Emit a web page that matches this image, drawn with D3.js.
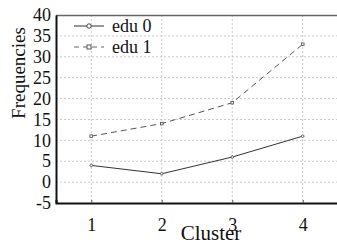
<!DOCTYPE html>
<html>
<head>
<meta charset="utf-8">
<script src="https://d3js.org/d3.v7.min.js"></script>
<style>
  body { margin: 0; background: #fff; }
  text { font-family: "Liberation Serif", "Times New Roman", serif; fill: #111; }
</style>
</head>
<body>
<svg width="337" height="246"></svg>
<script>
  const clusters = [1, 2, 3, 4];
  const edu0 = [4, 2, 6, 11];
  const edu1 = [11, 14, 19, 33];
  const yTicks = [-5, 0, 5, 10, 15, 20, 25, 30, 35, 40];

  const svg = d3.select('svg');
  const margin = {top: 15, left: 56, bottom: 43, right: -1};
  const width = +svg.attr('width');
  const height = +svg.attr('height');
  const innerWidth = width - margin.left - margin.right;
  const innerHeight = height - margin.top - margin.bottom;

  const xScale = d3.scaleLinear().domain([0.5, 4.5]).range([0, innerWidth]);
  const yScale = d3.scaleLinear().domain([-5, 40]).range([innerHeight, 0]);

  const g = svg.append('g').attr('transform', `translate(${margin.left},${margin.top})`);

  // grid
  g.selectAll('.hgrid').data(yTicks.slice(1, -1)).enter().append('line')
    .attr('x1', 0).attr('x2', innerWidth)
    .attr('y1', d => yScale(d)).attr('y2', d => yScale(d))
    .attr('stroke', '#c8c8c8').attr('stroke-dasharray', '2,2');
  g.selectAll('.vgrid').data(clusters).enter().append('line')
    .attr('y1', 0).attr('y2', innerHeight)
    .attr('x1', d => xScale(d)).attr('x2', d => xScale(d))
    .attr('stroke', '#c8c8c8').attr('stroke-dasharray', '2,2');

  // top border
  g.append('line').attr('x1', 0).attr('x2', innerWidth).attr('y1', 0.5).attr('y2', 0.5)
    .attr('stroke', '#666').attr('stroke-width', 1.5);

  // axes
  const yAxis = d3.axisLeft(yScale).tickValues(yTicks).tickSize(0).tickPadding(5)
    .tickFormat(d => String(d));
  const yg = g.append('g').call(yAxis).attr('font-family', null).attr('font-size', null);
  yg.select('.domain').attr('stroke', '#111').attr('stroke-width', 2);
  yg.selectAll('text').attr('font-size', 18);

  const xAxis = d3.axisBottom(xScale).tickValues(clusters).tickSize(-3).tickPadding(15).tickFormat(d3.format('d'));
  const xg = g.append('g').attr('transform', `translate(0,${innerHeight})`).call(xAxis)
    .attr('font-family', null).attr('font-size', null);
  xg.select('.domain').attr('stroke', '#111').attr('stroke-width', 2);
  xg.selectAll('.tick line').attr('stroke', '#555');
  xg.selectAll('text').attr('font-size', 18);

  // lines
  const line = d3.line().x((d, i) => xScale(clusters[i])).y(d => yScale(d));
  g.append('path').datum(edu0).attr('d', line)
    .attr('fill', 'none').attr('stroke', '#333').attr('stroke-width', 1);
  g.append('path').datum(edu1).attr('d', line)
    .attr('fill', 'none').attr('stroke', '#555').attr('stroke-width', 1).attr('stroke-dasharray', '6,4');

  g.selectAll('.p0').data(edu0).enter().append('circle')
    .attr('cx', (d, i) => xScale(clusters[i])).attr('cy', d => yScale(d)).attr('r', 1.3)
    .attr('fill', '#fff').attr('stroke', '#444').attr('stroke-width', 0.8);
  g.selectAll('.p1').data(edu1).enter().append('rect')
    .attr('x', (d, i) => xScale(clusters[i]) - 1.3).attr('y', d => yScale(d) - 1.3)
    .attr('width', 2.6).attr('height', 2.6)
    .attr('fill', '#fff').attr('stroke', '#444').attr('stroke-width', 0.8);

  // legend
  const leg = svg.append('g');
  leg.append('line').attr('x1', 74).attr('x2', 104).attr('y1', 26).attr('y2', 26)
    .attr('stroke', '#333');
  leg.append('circle').attr('cx', 89).attr('cy', 26).attr('r', 2.2)
    .attr('fill', '#fff').attr('stroke', '#444');
  leg.append('text').attr('x', 112).attr('y', 32).attr('font-size', 18).text('edu 0');
  leg.append('line').attr('x1', 74).attr('x2', 104).attr('y1', 47).attr('y2', 47)
    .attr('stroke', '#666').attr('stroke-dasharray', '5,4');
  leg.append('rect').attr('x', 87).attr('y', 45).attr('width', 4).attr('height', 4)
    .attr('fill', '#fff').attr('stroke', '#555');
  leg.append('text').attr('x', 112).attr('y', 53).attr('font-size', 18).text('edu 1');

  // axis titles
  svg.append('text').attr('transform', 'translate(25,73) rotate(-90)')
    .attr('text-anchor', 'middle').attr('font-size', 19).text('Frequencies');
  svg.append('text').attr('x', 211).attr('y', 240)
    .attr('text-anchor', 'middle').attr('font-size', 21).text('Cluster');
</script>
</body>
</html>
